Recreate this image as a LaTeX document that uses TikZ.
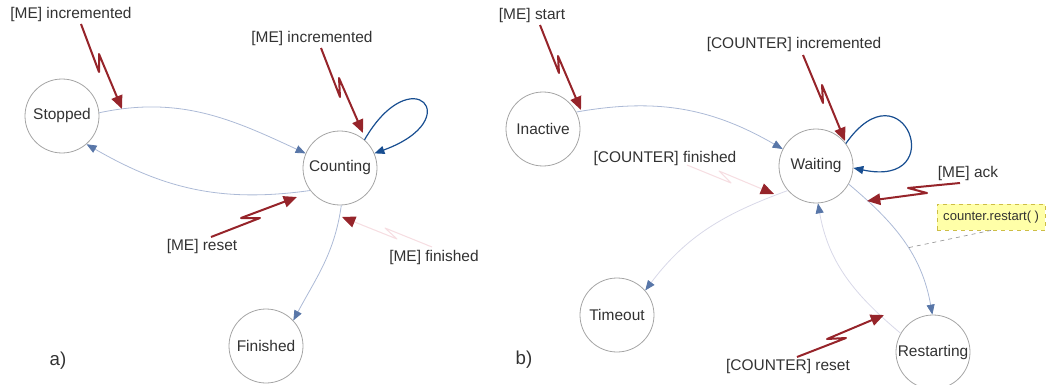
\documentclass[tikz,border=0pt]{standalone}
\usepackage{fontspec}
\setmainfont{Liberation Sans}
\usetikzlibrary{arrows.meta,calc}
\definecolor{boltred}{RGB}{150,36,42}
\definecolor{boltfaint}{RGB}{246,222,226}
\definecolor{edgelight}{RGB}{172,186,214}
\definecolor{edgefaint}{RGB}{216,216,232}
\definecolor{arrowblue}{RGB}{88,118,168}
\definecolor{loopblue}{RGB}{24,78,145}
\definecolor{stategrey}{RGB}{165,165,165}
\definecolor{txt}{RGB}{50,50,50}
\definecolor{notefill}{RGB}{255,255,168}
\definecolor{notedraw}{RGB}{205,190,70}
\definecolor{notelinkc}{RGB}{150,150,150}
\begin{document}
\begin{tikzpicture}[x=0.75pt,y=0.75pt,
  state/.style={circle,draw=stategrey,line width=0.6pt,minimum size=55.5pt,inner sep=0pt,text=txt,font=\fontsize{11.6}{13}\selectfont},
  lbl/.style={text=txt,inner sep=0pt,font=\fontsize{11.6}{13}\selectfont},
  panel/.style={text=txt,inner sep=0pt,font=\fontsize{14}{16}\selectfont},
  bolt/.style={draw=boltred,line width=1.5pt,line join=round,-{Triangle[length=10pt,width=8.5pt]}},
  faintbolt/.style={draw=boltfaint,line width=0.8pt,line join=round,-{Triangle[length=10pt,width=8.5pt,color=boltred]}},
  edge/.style={draw=edgelight,line width=0.6pt,-{Triangle[length=7.5pt,width=6pt,color=arrowblue]}},
  faintedge/.style={edge,draw=edgefaint},
  selfloop/.style={draw=loopblue,line width=0.9pt,-{Triangle[length=7.5pt,width=6pt]}},
  note/.style={draw=notedraw,dashed,fill=notefill,line width=0.5pt,minimum width=81pt,minimum height=19.5pt,inner sep=0pt,text=txt,font=\fontsize{9.8}{11}\selectfont},
  notelink/.style={draw=notelinkc,dashed,line width=0.5pt}
]
\useasboundingbox (0,0) rectangle (1046,-385);

% ---------- panel a ----------
\node[state] (stopped)  at (62,-116)  {Stopped};
\node[state] (counting) at (340,-168) {Counting};
\node[state] (finished) at (266,-346) {Finished};
\node[panel] (pa) at (58,-361) {a)};

\node[lbl] (l1) at (71,-15)   {[ME] incremented};
\node[lbl] (l2) at (312,-39)  {[ME] incremented};
\node[lbl] (l3) at (202,-246) {[ME] reset};
\node[lbl] (l4) at (434,-257) {[ME] finished};

\draw[edge] (stopped.5) to[out=12,in=155] (counting.157);
\draw[edge] (counting.217) to[out=188,in=-30] (stopped.311);
\draw[edge] (counting.272) to[out=262,in=62] (finished.43);
\draw[selfloop] (counting.49) .. controls +(60:95) and +(20:100) .. (counting.23);

\coordinate (b1s) at (81,-24);  \coordinate (b1t) at (122,-109);
\draw[bolt] (b1s) -- (99,-72) -- (99,-54) -- (b1t);
\coordinate (b2s) at (321,-48); \coordinate (b2t) at (363,-133);
\draw[bolt] (b2s) -- (340,-97) -- (339,-78) -- (b2t);
\coordinate (b3s) at (211,-237); \coordinate (b3t) at (297,-197);
\draw[bolt] (b3s) -- (260,-218) -- (241,-218) -- (b3t);
\coordinate (b4s) at (432,-247); \coordinate (b4t) at (342,-217);
\draw[faintbolt] (b4s) -- (385,-228) -- (397,-239) -- (b4t);

% ---------- panel b ----------
\node[state] (inactive)   at (543,-129) {Inactive};
\node[state] (waiting)    at (816,-166) {Waiting};
\node[state] (timeout)    at (617,-315) {Timeout};
\node[state] (restarting) at (933,-352) {Restarting};
\node[panel] (pb) at (524,-360) {b)};

\node[lbl] (l5) at (532,-16)  {[ME] start};
\node[lbl] (l6) at (794,-45)  {[COUNTER] incremented};
\node[lbl] (l7) at (665,-159) {[COUNTER] finished};
\node[lbl] (l8) at (968,-174) {[ME] ack};
\node[lbl] (l9) at (788,-366) {[COUNTER] reset};

\node[note,anchor=east] (notebox) at (1045.5,-217) {counter.restart( )};

\draw[edge] (inactive.27) to[out=10,in=150] (waiting.153);
\draw[selfloop] (waiting.37) .. controls +(55:100) and +(-12:100) .. (waiting.-3);
\draw[faintedge] (waiting.221) to[out=200,in=53] (timeout.41);
\draw[edge] (waiting.331) to[out=-40,in=100] coordinate[pos=0.55] (wr) (restarting.91);
\draw[faintedge] (restarting.150) to[out=140,in=-80] (waiting.273);
\draw[notelink] (notebox.south) -- (wr);

\coordinate (b5s) at (540,-25);  \coordinate (b5t) at (581,-110);
\draw[bolt] (b5s) -- (559,-73) -- (558,-56) -- (b5t);
\coordinate (b6s) at (803,-55);  \coordinate (b6t) at (845,-141);
\draw[bolt] (b6s) -- (823,-103) -- (822,-85) -- (b6t);
\coordinate (b7s) at (687,-165); \coordinate (b7t) at (774,-194);
\draw[faintbolt] (b7s) -- (731,-183) -- (719,-171) -- (b7t);
\coordinate (b8s) at (960,-183); \coordinate (b8t) at (867,-201);
\draw[bolt] (b8s) -- (908,-188) -- (927,-193) -- (b8t);
\coordinate (b9s) at (797,-357); \coordinate (b9t) at (884,-315);
\draw[bolt] (b9s) -- (846,-338) -- (827,-339) -- (b9t);
\end{tikzpicture}
\end{document}
